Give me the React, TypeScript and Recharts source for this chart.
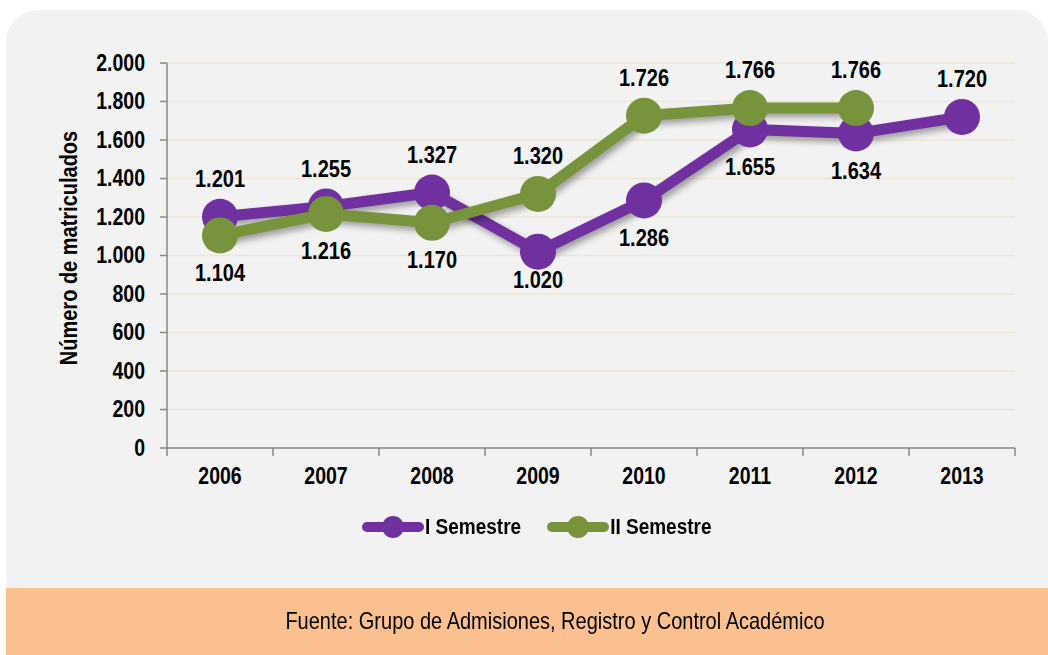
import React from 'react';
import { LineChart, Line, XAxis, YAxis, CartesianGrid, LabelList, Legend } from 'recharts';

const years = ['2006', '2007', '2008', '2009', '2010', '2011', '2012', '2013'];
const semestre1 = [1201, 1255, 1327, 1020, 1286, 1655, 1634, 1720];
const semestre2: (number | null)[] = [1104, 1216, 1170, 1320, 1726, 1766, 1766, null];
const yTicks = [0, 200, 400, 600, 800, 1000, 1200, 1400, 1600, 1800, 2000];
const place1 = ['above', 'above', 'above', 'belowNear', 'below', 'below', 'below', 'above'];
const place2 = ['below', 'below', 'below', 'above', 'above', 'above', 'above', 'above'];

const data = years.map((y, i) => ({ year: y, s1: semestre1[i], s2: semestre2[i] }));

const PURPLE = '#7030a0';
const GREEN = '#77933c';
const FONT = "'Liberation Sans', Arial, sans-serif";
const SY = 1.18;

const W = 1048;
const H = 585;
const M = { top: 63, right: 33, left: 0, bottom: 97 };
const Y_W = 167;
const X_H = 40;
const PLOT_W = W - M.left - M.right - Y_W;
const BAND = PLOT_W / years.length;
const AXIS_Y = H - M.bottom - X_H;

const fmt = (v: number) => {
  if (v >= 1000) {
    return `${Math.floor(v / 1000)}.${String(v % 1000).padStart(3, '0')}`;
  }
  return String(v);
};

const STxt = ({ x, y, anchor = 'middle', size = 19, weight = 'bold', children, rotate = 0 }: any) => (
  <text
    x={0}
    y={0}
    transform={`translate(${x},${y}) rotate(${rotate}) scale(1,${SY})`}
    textAnchor={anchor}
    dominantBaseline="central"
    fontFamily={FONT}
    fontWeight={weight}
    fontSize={size}
    fill="#000"
  >
    {children}
  </text>
);

const OFFS: Record<string, number> = { above: -38, below: 37, belowNear: 28 };

const makeLabel = (places: string[]) => (props: any) => {
  const { x, y, value, index } = props;
  if (value == null) return null;
  const dy = OFFS[places[index]];
  return (
    <STxt x={x} y={y + dy} size={20}>
      {fmt(value)}
    </STxt>
  );
};

const XTick = (props: any) => {
  const { x, payload, index } = props;
  const isLast = index === years.length - 1;
  return (
    <g>
      <line x1={x - BAND / 2} x2={x - BAND / 2} y1={AXIS_Y} y2={AXIS_Y + 8} stroke="#898989" strokeWidth={1.5} />
      {isLast && (
        <line x1={x + BAND / 2} x2={x + BAND / 2} y1={AXIS_Y} y2={AXIS_Y + 8} stroke="#898989" strokeWidth={1.5} />
      )}
      <STxt x={x} y={AXIS_Y + 28} size={19.5}>
        {payload.value}
      </STxt>
    </g>
  );
};

const YTick = (props: any) => {
  const { x, y, payload } = props;
  return (
    <STxt x={x} y={y} anchor="end" size={19.5}>
      {fmt(payload.value)}
    </STxt>
  );
};

const YLabel = () => (
  <STxt x={69} y={248} rotate={-90} size={20}>
    Número de matriculados
  </STxt>
);

const LegendContent = () => {
  const items = [
    { name: 'I Semestre', color: PURPLE },
    { name: 'II Semestre', color: GREEN },
  ];
  return (
    <div style={{ display: 'flex', alignItems: 'center', paddingLeft: 362 }}>
      {items.map((it, i) => (
        <div key={it.name} style={{ display: 'flex', alignItems: 'center', marginRight: i === 0 ? 26 : 0 }}>
          <svg width={62} height={26}>
            <line x1={5} x2={57} y1={13} y2={13} stroke={it.color} strokeWidth={10} strokeLinecap="round" />
            <circle cx={31} cy={13} r={11} fill={it.color} />
          </svg>
          <span
            style={{
              fontFamily: FONT,
              fontWeight: 'bold',
              fontSize: 19,
              color: '#000',
              marginLeft: 1,
              display: 'inline-block',
              transform: `scaleY(${SY})`,
            }}
          >
            {it.name}
          </span>
        </div>
      ))}
    </div>
  );
};

export default function App() {
  return (
    <div style={{ position: 'absolute', left: 0, top: 0, width: 1048, height: 655, background: '#fff', overflow: 'hidden' }}>
      <style>{`.recharts-line { filter: drop-shadow(3px 4px 3px rgba(0,0,0,0.35)); }`}</style>
      <div
        style={{
          position: 'absolute',
          left: 6,
          top: 10,
          right: 0,
          bottom: 0,
          background: '#f2f2f2',
          borderRadius: '32px 32px 0 0',
        }}
      />
      <div style={{ position: 'absolute', left: 0, top: 0 }}>
        <LineChart width={W} height={H} data={data} margin={M}>
          <CartesianGrid horizontal vertical={false} stroke="#ece6d2" strokeWidth={1.5} />
          <XAxis
            dataKey="year"
            height={X_H}
            tickLine={false}
            axisLine={{ stroke: '#898989', strokeWidth: 1.5 }}
            tick={<XTick />}
            interval={0}
            padding={{ left: BAND / 2, right: BAND / 2 }}
          />
          <YAxis
            width={Y_W}
            domain={[0, 2000]}
            ticks={yTicks}
            interval={0}
            tickSize={7}
            tickMargin={15}
            tickLine={{ stroke: '#898989', strokeWidth: 1.5 }}
            axisLine={{ stroke: '#898989', strokeWidth: 1.5 }}
            tick={<YTick />}
            label={<YLabel />}
          />
          <Legend
            verticalAlign="middle"
            align="center"
            layout="horizontal"
            wrapperStyle={{ top: 514, left: 0, width: 1048 }}
            content={<LegendContent />}
          />
          <Line
            type="linear"
            dataKey="s1"
            name="I Semestre"
            stroke={PURPLE}
            strokeWidth={11}
            dot={{ r: 18, fill: PURPLE, stroke: 'none' }}
            activeDot={false}
            isAnimationActive={false}
          >
            <LabelList dataKey="s1" content={makeLabel(place1)} />
          </Line>
          <Line
            type="linear"
            dataKey="s2"
            name="II Semestre"
            stroke={GREEN}
            strokeWidth={11}
            dot={{ r: 18, fill: GREEN, stroke: 'none' }}
            activeDot={false}
            isAnimationActive={false}
          >
            <LabelList dataKey="s2" content={makeLabel(place2)} />
          </Line>
        </LineChart>
      </div>
      <div
        style={{
          position: 'absolute',
          left: 6,
          top: 588,
          right: 0,
          height: 67,
          background: '#fac090',
          display: 'flex',
          alignItems: 'center',
          justifyContent: 'center',
        }}
      >
        <span
          style={{
            fontFamily: FONT,
            fontSize: 20,
            color: '#000',
            marginLeft: 56,
            display: 'inline-block',
            transform: `scaleY(${SY})`,
          }}
        >
          Fuente: Grupo de Admisiones, Registro y Control Académico
        </span>
      </div>
    </div>
  );
}
